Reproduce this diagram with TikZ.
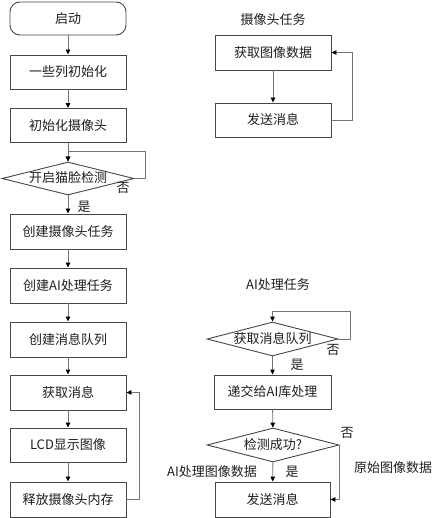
\documentclass[tikz,border=0pt]{standalone}
\usepackage{fontspec}
\setmainfont{Noto Sans CJK SC}
\usetikzlibrary{shapes.geometric,arrows.meta}
\definecolor{boxc}{RGB}{70,70,70}
\definecolor{linec}{RGB}{115,115,115}
\definecolor{txtc}{RGB}{30,30,30}
\tikzset{
  txt/.style={font=\fontsize{13}{13}\selectfont, text=txtc},
  stepbox/.style={draw=boxc, line width=0.9pt, minimum width=116pt, minimum height=34pt, inner sep=0pt, txt},
  startbox/.style={stepbox, rounded corners=10pt, minimum height=33pt},
  decis/.style={diamond, aspect=4, draw=boxc, line width=0.9pt, inner sep=0pt, minimum width=130pt, minimum height=33pt, txt, text height=10pt, text depth=2pt},
  conn/.style={draw=linec, line width=0.9pt, -{Triangle[length=5pt,width=4.5pt,color=black,fill=black]}},
  plain/.style={draw=linec, line width=0.9pt},
  lbl/.style={txt, inner sep=0pt}
}
\begin{document}
\begin{tikzpicture}[x=1pt,y=-1pt]
\useasboundingbox (0,0) rectangle (443,518);
% left column
\node[startbox] (start) at (68,18.5) {启动};
\node[stepbox] (init1) at (68,72) {一些列初始化};
\node[stepbox] (init2) at (68,125.5) {初始化摄像头};
\node[decis, minimum width=132pt] (d1) at (68,178.5) {开启猫脸检测};
\node[stepbox, minimum height=35pt] (c1) at (68,231.5) {创建摄像头任务};
\node[stepbox, minimum height=35pt] (c2) at (68,285.5) {创建AI处理任务};
\node[stepbox, minimum height=35pt] (c3) at (68,339.5) {创建消息队列};
\node[stepbox, minimum height=35pt] (get) at (68,392.5) {获取消息};
\node[stepbox] (lcd) at (68,445) {LCD显示图像};
\node[stepbox, minimum height=35pt] (rel) at (68,499.5) {释放摄像头内存};
\node[lbl] (no1) at (123,187.5) {否};
\node[lbl] (yes1) at (84,207) {是};
\coordinate (lp1) at (145,151);
\coordinate (lp2) at (139,392.5);

\draw[conn] (start) -- (init1);
\draw[conn] (init1) -- (init2);
\draw[conn] (init2) -- (d1);
\draw[conn] (d1.east) -| (lp1) -| (d1.north);
\draw[conn] (d1) -- (c1);
\draw[conn] (c1) -- (c2);
\draw[conn] (c2) -- (c3);
\draw[conn] (c3) -- (get);
\draw[conn] (get) -- (lcd);
\draw[conn] (lcd) -- (rel);
\draw[conn] (rel.east) -| (lp2) -- (get.east);

% camera task
\node[lbl] (t1) at (273,20) {摄像头任务};
\node[stepbox, minimum height=35pt] (r1) at (273,52.5) {获取图像数据};
\node[stepbox] (r2) at (273,120) {发送消息};
\coordinate (lp3) at (352,52.5);
\draw[conn] (r1) -- (r2);
\draw[conn] (r2.east) -| (lp3) -- (r1.east);

% AI task
\node[lbl] (t2) at (278,285) {AI处理任务};
\node[decis, minimum width=131pt, minimum height=34pt] (d2) at (272.5,339) {获取消息队列};
\node[stepbox, minimum width=117pt] (r3) at (272.5,392) {递交给AI库处理};
\node[decis, minimum width=132pt, minimum height=34pt] (d3) at (273,445) {检测成功?};
\node[stepbox, minimum width=115pt, minimum height=35pt] (r4) at (272.5,499.5) {发送消息};
\node[lbl] (no2) at (333,350) {否};
\node[lbl] (yes2) at (297,365) {是};
\node[lbl] (no3) at (347,433) {否};
\node[lbl] (raw) at (393,468) {原始图像数据};
\node[lbl] (aiimg) at (212,472) {AI处理图像数据};
\node[lbl] (yes3) at (292,472) {是};
\coordinate (lp4) at (350,311);
\draw[conn] (d2.east) -| (lp4) -| (d2.north);
\draw[conn] (d2) -- (r3);
\draw[conn] (r3) -- (d3);
\draw[conn] (d3) -- (r4);
\draw[conn] (d3.east) |- (r4.east);
\end{tikzpicture}
\end{document}
